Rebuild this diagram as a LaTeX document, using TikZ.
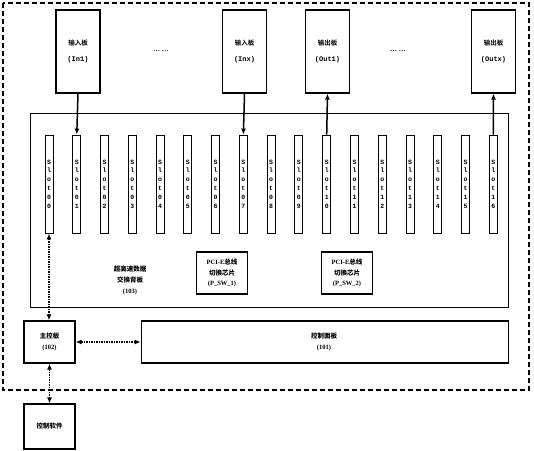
\documentclass[tikz,border=0pt]{standalone}
\usepackage{fontspec}
\setmainfont{Liberation Serif}
\newfontfamily\cjk{Noto Sans CJK SC Bold}
\newfontfamily\mn{Liberation Mono}
\usetikzlibrary{arrows.meta}
\begin{document}
\begin{tikzpicture}[x=1pt,y=-1pt,
  board/.style={draw, line width=1.2pt, minimum width=44pt, minimum height=83pt, align=center, inner sep=0pt},
  slotbox/.style={draw, line width=0.9pt, minimum width=8pt, minimum height=98pt, inner sep=0pt, align=center,
     font=\mn\bfseries\fontsize{6.5}{8.8}\selectfont},
  chip/.style={draw, line width=1.2pt, minimum width=51pt, minimum height=42pt, align=center, inner sep=0pt,
     font=\bfseries\fontsize{6.5}{10.5}\selectfont},
  ctl/.style={draw, line width=1.2pt, align=center, inner sep=0pt, font=\bfseries\fontsize{6.5}{10.5}\selectfont},
  sig/.style={line width=1.5pt, -{Latex[length=6pt,width=5pt]}},
  dbl/.style={line width=1.5pt, densely dotted, {Latex[length=6pt,width=5pt]}-{Latex[length=6pt,width=5pt]}},
  lbl/.style={align=center, font=\bfseries\fontsize{6.5}{11}\selectfont}
]
\useasboundingbox (0,0) rectangle (534,450);
\fill[white] (0,0) rectangle (534,450);
% outer dashed frame
\draw[line width=1.2pt, dash pattern=on 5pt off 3pt] (3,3) rectangle (529,390);
% backplane
\node[draw, line width=0.9pt, minimum width=478pt, minimum height=194pt, inner sep=0pt] (bp) at (269,210) {};
\node[lbl] (bptxt) at (130,280) {{\cjk 超高速数据}\\{\cjk 交换背板}\\(103)};
% boards
\newcommand{\bd}[2]{{\cjk\fontsize{6.5}{7}\selectfont #1}\\[4pt]{\mn\bfseries\fontsize{7}{8}\selectfont #2}}
\node[board] (in1) at (78,51.5) {\bd{输入板}{(In1)}};
\node[board] (inx) at (244.5,51.5) {\bd{输入板}{(Inx)}};
\node[board] (out1) at (327.5,51.5) {\bd{输出板}{(Out1)}};
\node[board] (outx) at (493.5,51.5) {\bd{输出板}{(Outx)}};
\node[font=\bfseries\fontsize{7}{8}\selectfont] (dots1) at (161,51) {\textbf{\dots\ \dots}};
\node[font=\bfseries\fontsize{7}{8}\selectfont] (dots2) at (398,51) {\textbf{\dots\ \dots}};
% slots
\foreach \i/\a/\b in {0/0/0,1/0/1,2/0/2,3/0/3,4/0/4,5/0/5,6/0/6,7/0/7,8/0/8,9/0/9,10/1/0,11/1/1,12/1/2,13/1/3,14/1/4,15/1/5,16/1/6}{
  \node[slotbox] (s\i) at ({49+27.77*\i},184) {S\\l\\o\\t\\\a\\\b};
}
% chips
\node[chip] (sw1) at (222,273) {PCI-E{\cjk 总线}\\{\cjk 切换芯片}\\(P\_SW\_1)};
\node[chip] (sw2) at (347,273) {PCI-E{\cjk 总线}\\{\cjk 切换芯片}\\(P\_SW\_2)};
% control
\node[ctl, minimum width=51pt, minimum height=42pt] (main) at (49.5,342) {{\cjk 主控板}\\(102)};
\node[ctl, minimum width=367pt, minimum height=42pt] (panel) at (324.8,342) {};
\node[lbl] (paneltxt) at (324,342) {{\cjk 控制面板}\\(101)};
\node[ctl, minimum width=51pt, minimum height=45pt] (soft) at (49.5,426.5) {{\cjk 控制软件}};
% signal arrows
\draw[sig] (in1.south) -- (s1.north);
\draw[sig] (inx.south) -- (s7.north);
\draw[sig] (s10.north) -- (out1.south);
\draw[sig] (s16.north) -- (outx.south);
\draw[dbl] (s0.south) -- (s0.south |- main.north);
\draw[dbl] (main.east) -- (panel.west);
\draw[dbl] (main.south) -- (soft.north);
\end{tikzpicture}
\end{document}
